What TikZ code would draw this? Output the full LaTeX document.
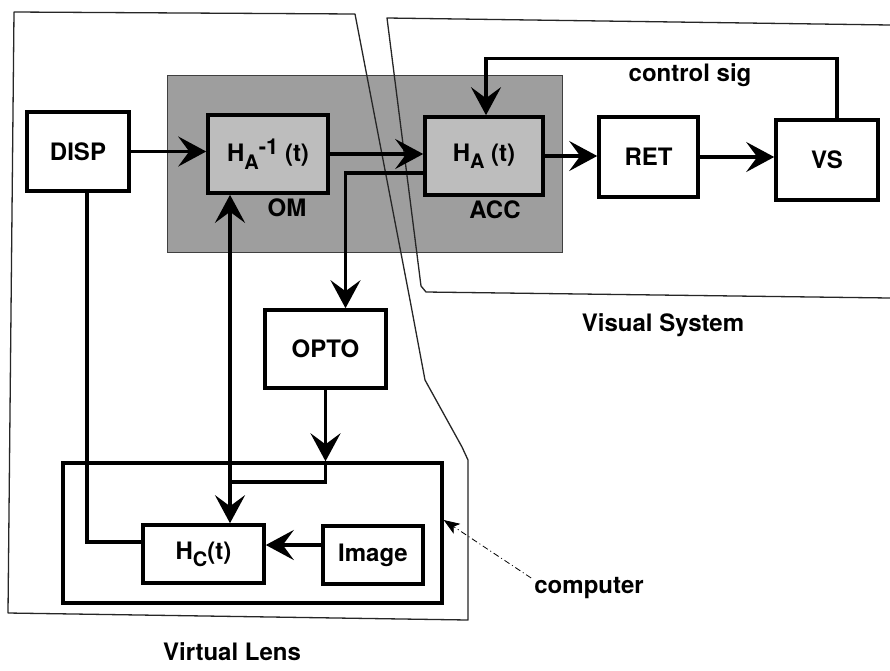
\documentclass[tikz,border=0pt]{standalone}
\usepackage{fontspec}
\setmainfont{TeX Gyre Heros}
\usetikzlibrary{arrows.meta}
\newcommand\lowr[1]{\raisebox{-0.3em}{\fontsize{20}{20}\selectfont #1}}
\newcommand\highr[1]{\raisebox{0.3em}{\fontsize{22}{22}\selectfont #1}}
\begin{document}
\begin{tikzpicture}[x=1pt,y=-1pt,
  every node/.style={font=\fontsize{24}{27}\selectfont\bfseries},
  blk/.style={draw, line width=3.6pt, fill=white, inner sep=0pt},
  gblk/.style={blk, fill=black!26},
  conn/.style={line width=3.2pt},
  bigtip/.tip={Stealth[length=28pt,width=30pt,inset=11pt]},
  arr/.style={conn, -bigtip},
  dbl/.style={conn, bigtip-bigtip},
  region/.style={line width=1.3pt, black!85, line join=round},
  lbl/.style={inner sep=0pt}]
\useasboundingbox (0,0) rectangle (890,670);
\fill[white] (0,0) rectangle (890,670);

% shaded block
\node[fill=black!38, draw=black!75, line width=1pt, minimum width=395pt, minimum height=177pt] (gray) at (364.5,163.5) {};

% region outlines
\draw[region] (14,12) -- (355,14) -- (410,300) -- (425,380) -- (462,447) -- (468,460) -- (468,620) -- (8,613) -- cycle;
\draw[region] (890,25) -- (387,18) -- (421,286) -- (426,292) -- (890,298);

% blocks
\node[blk, minimum width=102pt, minimum height=79pt] (DISP) at (78,151.5) {DISP};
\node[gblk, minimum width=120pt, minimum height=78pt] (HAinv) at (268,154) {H\lowr{A}\highr{-1} (t)};
\node[gblk, minimum width=118pt, minimum height=78pt] (HA) at (484,156) {H\lowr{A} (t)};
\node[blk, minimum width=99pt, minimum height=80pt] (RET) at (648.5,157) {RET};
\node[blk, minimum width=102pt, minimum height=80pt] (VS) at (827,160) {VS};
\node[blk, minimum width=121pt, minimum height=78pt] (OPTO) at (325.5,349) {OPTO};
\node[draw, line width=3.4pt, minimum width=379pt, minimum height=140pt] (comp) at (252.5,533) {};
\node[blk, minimum width=121pt, minimum height=58pt] (HC) at (203.5,554) {H\lowr{C}(t)};
\node[blk, minimum width=100pt, minimum height=58pt] (IMG) at (373,555) {Image};

% labels
\node[lbl] (om) at (287,208) {OM};
\node[lbl] (acc) at (495,210) {ACC};
\node[lbl] (csig) at (690,75) {control sig};
\node[lbl] (vsys) at (663,325) {Visual System};
\node[lbl] (vlens) at (232,652) {Virtual Lens};
\node[lbl] (complbl) at (589,588) {computer};

% connectors
\draw[arr] (DISP.east) -- (DISP.east -| HAinv.west);
\draw[arr] (HAinv.east) -- (HAinv.east -| HA.west);
\draw[arr] (HA.east) -- (HA.east -| RET.west);
\draw[arr] (RET.east) -- (RET.east -| VS.west);
\draw[arr] ([xshift=10pt]VS.north) -- ++(0,-60) -| ([xshift=2pt]HA.north);
\draw[arr] ([yshift=-17pt]HA.west) -| ([xshift=20pt]OPTO.north);
\draw[arr] (OPTO.south) -- (OPTO.south |- comp.north);
\coordinate (J) at (230,482);
\draw[conn] (OPTO.south |- comp.north) |- (J);
\draw[dbl] ([xshift=-38pt]HAinv.south) -- ([xshift=-38pt]HAinv.south |- HC.north);
\draw[arr] ([yshift=10pt]IMG.west) -- ([yshift=10pt]IMG.west -| HC.east);
\draw[conn] ([xshift=9pt]DISP.south) |- ([yshift=12pt]HC.west);
\draw[line width=0.8pt, dash pattern=on 6pt off 3pt on 1pt off 3pt, -{Stealth[length=16pt,width=12pt,inset=4pt]}] ([xshift=-3pt,yshift=10pt]complbl.west) -- ([yshift=13pt]comp.east);
\end{tikzpicture}
\end{document}
